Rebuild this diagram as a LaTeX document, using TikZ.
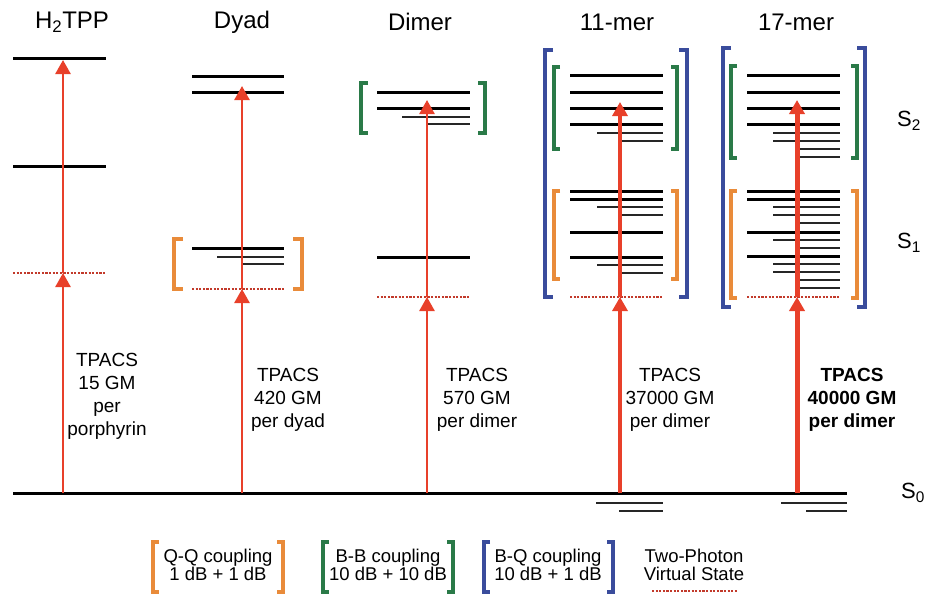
\documentclass[tikz,border=0pt]{standalone}
\usepackage{fontspec}
\setmainfont{Liberation Sans}
\usetikzlibrary{arrows.meta}
\definecolor{arrred}{HTML}{E8402A}
\definecolor{dotred}{HTML}{C23A2B}
\definecolor{qqorange}{HTML}{E98B3A}
\definecolor{bbgreen}{HTML}{2A7A48}
\definecolor{bqblue}{HTML}{3A4C9C}
\tikzset{
  lvthick/.style={line width=3pt,black},
  lvthin/.style={line width=1.6pt,black!85},
  virt/.style={dotred,line width=2.4pt,dash pattern=on 2.2pt off 1.4pt},
  brk/.style={line width=3.2pt,line join=miter},
  photon/.style={arrred,line width=2.6pt,-{Triangle[width=15pt,length=14pt]}},
  ttl/.style={font=\fontsize{24}{28}\selectfont,inner sep=0pt},
  lbl/.style={font=\fontsize{19}{23}\selectfont,align=center,inner sep=0pt},
  leg/.style={font=\fontsize{18.5}{18.5}\selectfont,align=center,inner sep=0pt},
  slbl/.style={font=\fontsize{22}{26}\selectfont,inner sep=0pt}
}
\newcommand\Lthick[3]{\draw[lvthick] (#2,#1) -- (#3,#1);}
\newcommand\Lthin[3]{\draw[lvthin] (#2,#1) -- (#3,#1);}
\newcommand\Lvirt[3]{\draw[virt] (#2,#1) -- (#3,#1);}
% bracket: color, x, tick x, y1, y2
\newcommand\Brk[5]{\draw[brk,#1] (#3,#4) -- (#2,#4) -- (#2,#5) -- (#3,#5);}
\begin{document}
\begin{tikzpicture}[x=1pt,y=-1pt]
\useasboundingbox (0,0) rectangle (928,594);
% titles
\node[ttl] (tH) at (72,22) {H\textsubscript{2}TPP};
\node[ttl] (tD) at (242,22) {Dyad};
\node[ttl] (tM) at (420,22) {Dimer};
\node[ttl] (t11) at (617,22) {11-mer};
\node[ttl] (t17) at (796,22) {17-mer};
% S labels
\node[slbl] (s2) at (909,121) {S\textsubscript{2}};
\node[slbl] (s1) at (909,243) {S\textsubscript{1}};
\node[slbl] (s0) at (913,493) {S\textsubscript{0}};
% ground state
\draw[lvthick] (13,493) -- (847,493);
\Lthin{503}{596}{663}\Lthin{511}{619}{663}
\Lthin{503}{781}{847}\Lthin{511}{806}{847}
% H2TPP
\Lthick{59}{13}{106}\Lthick{166}{13}{106}
\Lvirt{273}{13}{106}
% Dyad
\Lthick{76}{192}{284}\Lthick{92}{192}{284}
\Lthick{248}{192}{284}\Lthin{257}{217}{284}\Lthin{264}{242}{284}
\Lvirt{289}{192}{284}
\Brk{qqorange}{174}{183}{239}{289}\Brk{qqorange}{302}{293}{239}{289}
% Dimer
\Lthick{92}{377}{470}\Lthick{108}{377}{470}\Lthin{117}{402}{470}\Lthin{124}{427}{470}
\Lthick{257}{377}{470}
\Lvirt{297}{377}{470}
\Brk{bbgreen}{361}{368}{83}{133}\Brk{bbgreen}{485}{478}{83}{133}
% 11-mer
\foreach \y in {75,92,108,124,191,199,232,257} {\Lthick{\y}{570}{663}}
\foreach \y in {133,207,265} {\Lthin{\y}{597}{663}}
\foreach \y in {141,215,273} {\Lthin{\y}{622}{663}}
\Lvirt{297}{570}{663}
\Brk{bqblue}{545}{553}{50}{297}\Brk{bqblue}{687}{679}{50}{297}
\Brk{bbgreen}{554}{560}{67}{149}\Brk{bbgreen}{677}{671}{67}{149}
\Brk{qqorange}{554}{560}{191}{279}\Brk{qqorange}{677}{671}{191}{279}
% 17-mer
\foreach \y in {75,92,108,124,191,199,232,256} {\Lthick{\y}{747}{840}}
\foreach \y in {133,141,207,215,240,264,272} {\Lthin{\y}{773}{840}}
\foreach \y in {149,157,223,248,280,288} {\Lthin{\y}{800}{840}}
\Lvirt{297}{747}{840}
\Brk{bqblue}{723}{731}{48}{307}\Brk{bqblue}{865}{857}{48}{307}
\Brk{bbgreen}{731}{737}{66}{158}\Brk{bbgreen}{857}{851}{66}{158}
\Brk{qqorange}{731}{737}{191}{298}\Brk{qqorange}{857}{851}{191}{298}
% photon arrows
\coordinate (gH) at (63,493);  \coordinate (vH) at (63,273);  \coordinate (eH) at (63,60);
\coordinate (gD) at (242,493); \coordinate (vD) at (242,289); \coordinate (eD) at (242,86);
\coordinate (gM) at (427,493); \coordinate (vM) at (427,297); \coordinate (eM) at (427,100);
\coordinate (g11) at (620,493); \coordinate (v11) at (620,297); \coordinate (e11) at (620,102);
\coordinate (g17) at (797,493); \coordinate (v17) at (797,297); \coordinate (e17) at (797,100);
\draw[photon] (gH) -- (vH); \draw[photon] (vH) -- (eH);
\draw[photon] (gD) -- (vD); \draw[photon] (vD) -- (eD);
\draw[photon] (gM) -- (vM); \draw[photon] (vM) -- (eM);
\draw[photon,line width=3.3pt] (g11) -- (v11); \draw[photon,line width=3.3pt] (v11) -- (e11);
\draw[photon,line width=5pt] (g17) -- (v17); \draw[photon,line width=5pt] (v17) -- (e17);
% TPACS labels
\node[lbl] (cH) at (107,396) {TPACS\\15 GM\\per\\porphyrin};
\node[lbl] (cD) at (288,399.5) {TPACS\\420 GM\\per dyad};
\node[lbl] (cM) at (477,399.5) {TPACS\\570 GM\\per dimer};
\node[lbl] (c11) at (670,399.5) {TPACS\\37000 GM\\per dimer};
\node[lbl,font=\fontsize{19}{23}\selectfont\bfseries] (c17) at (852,399.5) {TPACS\\40000 GM\\per dimer};
% legend
\node[leg] (lq) at (218,565) {Q-Q coupling\\1 dB + 1 dB};
\Brk{qqorange}{153}{159}{542}{592}\Brk{qqorange}{283}{277}{542}{592}
\node[leg] (lb) at (388,565) {B-B coupling\\10 dB + 10 dB};
\Brk{bbgreen}{323}{329}{542}{592}\Brk{bbgreen}{453}{447}{542}{592}
\node[leg] (lbq) at (548,565) {B-Q coupling\\10 dB + 1 dB};
\Brk{bqblue}{484}{490}{542}{592}\Brk{bqblue}{613}{607}{542}{592}
\node[leg] (lv) at (694,565) {Two-Photon\\Virtual State};
\draw[virt] (652,591) -- (738,591);
\end{tikzpicture}
\end{document}
